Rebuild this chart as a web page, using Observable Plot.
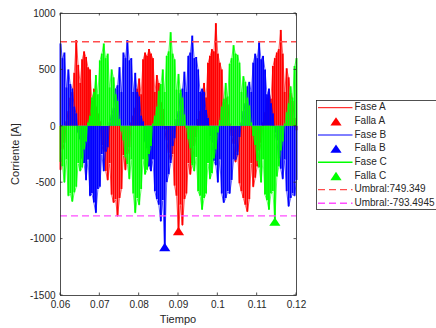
<!DOCTYPE html>
<html>
<head>
<meta charset="utf-8">
<script src="https://cdn.jsdelivr.net/npm/d3@7"></script>
<script src="https://cdn.jsdelivr.net/npm/@observablehq/plot@0.6"></script>
<style>
  html, body { margin: 0; padding: 0; background: #fff; }
  svg { display: block; }
</style>
</head>
<body>
<div id="chart"></div>
<script>
// Sampling of the three phase currents: one value every 0.5 ms from t = 0.06 s
const t0 = 0.06;
const dt = 0.0005;

const faseA = [
  -390, -210, -150, 40,
  130, 250, 300, 470, 760, 540, 380, 590, 660, 610, 520, 500, 220, 330, 170, 110,
  40, -170, -230, -400, -480, -330, -610, -680, -650, -800, -640, -560, -260, -390, -250, -190, 30,
  90, 160, 330, 420, 280, 590, 650, 620, 680, 640, 600, 300, 450, 380, 210, 150, -30,
  -130, -240, -300, -250, -530, -620, -928, -700, -880, -650, -600, -330, -430, -330, -180, -100,
  60, 130, 290, 380, 250, 560, 620, 680, 660, 910, 640, 560, 500, 210, 250, 190, 20,
  -90, -160, -320, -230, -510, -580, -640, -700, -760, -650, -330, -540, -460, -360, -220, -150,
  30, 120, 250, 300, 240, 530, 600, 650, 680, 850, 640, 300, 510, 430, 290, 220, 70,
  -40
];

const faseB = [
  730, 600, 650, 340, 500, 370, 330, 170, 110,
  -60, -120, -290, -330, -480, -300, -620, -600, -680, -770, -560, -540, -250, -400, -230, -190, 30,
  100, 160, 330, 360, 520, 300, 650, 600, 760, 580, 600, 300, 470, 300, 260, 90, 40,
  -140, -200, -360, -400, -300, -580, -650, -700, -845, -660, -1070, -500, -430, -330, -180, -110,
  60, 130, 290, 330, 480, 300, 620, 650, 800, 600, 610, 500, 300, 330, 300, 140, 70,
  -90, -150, -310, -350, -500, -300, -600, -680, -640, -580, -600, -480, -300, -300, -260, -100, 30,
  130, 200, 350, 390, 300, 560, 640, 600, 740, 590, 620, 500, 280, 330, 200, 110,
  -60, -130, -290, -380, -470, -300, -580, -713, -640, -600, -620, -480
];

const faseC = [
  -320, -360, -500, -300, -620, -600, -670, -590, -540, -330, -400, -370, -210, -140, 30,
  90, 250, 300, 450, 280, 580, 640, 730, 600, 640, 340, 500, 430, 280, 220, 60,
  -50, -130, -280, -340, -470, -300, -600, -770, -640, -700, -560, -300, -430, -390, -250, -180, 20,
  90, 170, 310, 370, 500, 300, 620, 660, 830, 640, 590, 320, 460, 320, 250, 100, -20,
  -120, -200, -350, -400, -280, -580, -620, -742, -640, -600, -330, -470, -420, -290, -210, -60,
  50, 170, 240, 380, 260, 550, 600, 715, 640, 630, 560, 300, 440, 390, 250, 180, 30,
  -90, -170, -310, -370, -500, -300, -610, -660, -742, -600, -580, -845, -450, -360, -220, -140, 20,
  120, 200, 350, 250, 530, 600
];

const umbralSup = 749.349;
const umbralInf = -793.4945;

const xTicks = [0.06, 0.07, 0.08, 0.09, 0.1, 0.11, 0.12];
const xTickLabels = ["0.06", "0.07", "0.08", "0.09", "0.1", "0.11", "0.12"];
const yTicks = [-1500, -1000, -500, 0, 500, 1000];
const yTickLabels = ["-1500", "-1000", "-500", "0", "500", "1000"];

const colorA = "#ff0000", colorB = "#0000ff", colorC = "#00ff00";
const colorSup = "#ff4d4d", colorInf = "#ff4dff";

const legendLabels = ["Fase A", "Falla A", "Fase B", "Falla B", "Fase C", "Falla C",
  "Umbral:749.349", "Umbral:-793.4945"];

// Build sample rows and the fault point (minimum) of each phase
const rows = vals => vals.map((v, i) => ({t: t0 + i * dt, v}));
const fault = vals => { const i = d3.minIndex(vals); return [{t: t0 + i * dt, v: vals[i]}]; };

// Upward triangle marker, wider than tall
const tri = {draw(ctx) { ctx.moveTo(0, -4.2); ctx.lineTo(5.6, 4.2); ctx.lineTo(-5.6, 4.2); ctx.closePath(); }};

function phaseMarks(vals, color) {
  const r = rows(vals);
  return [
    Plot.ruleX(r, {x: "t", y1: 0, y2: "v", stroke: color, strokeWidth: 1.9}),
    Plot.line(r, {x: "t", y: "v", stroke: color, strokeWidth: 0.6}),
    Plot.dot(fault(vals), {x: "t", y: "v", symbol: tri, fill: color, stroke: "none", r: 5})
  ];
}

const xLab = new Map(xTicks.map((d, i) => [d, xTickLabels[i]]));
const yLab = new Map(yTicks.map((d, i) => [d, yTickLabels[i]]));

const chart = Plot.plot({
  width: 436,
  height: 328,
  marginLeft: 60,
  marginRight: 140,
  marginTop: 13,
  marginBottom: 33,
  style: {fontFamily: "'Liberation Sans', Arial, sans-serif", fontSize: "10px", color: "#262626", background: "#fff", overflow: "hidden"},
  x: {domain: [0.06, 0.12]},
  y: {domain: [-1500, 1000]},
  marks: [
    ...phaseMarks(faseA, colorA),
    ...phaseMarks(faseB, colorB),
    ...phaseMarks(faseC, colorC),
    Plot.ruleY([umbralSup], {x1: 0.06, x2: 0.12, stroke: colorSup, strokeWidth: 1.3, strokeDasharray: "7,4"}),
    Plot.ruleY([umbralInf], {x1: 0.06, x2: 0.12, stroke: colorInf, strokeWidth: 1.3, strokeDasharray: "7,4"}),
    Plot.frame({stroke: "#262626", strokeWidth: 0.8}),
    Plot.axisX({ticks: xTicks, tickFormat: d => xLab.get(d), tickSize: 0, tickPadding: 5, label: null}),
    Plot.axisY({ticks: yTicks, tickFormat: d => yLab.get(d), tickSize: 0, tickPadding: 5, label: null})
  ]
});

document.getElementById("chart").appendChild(chart);

// Inward tick marks on all four sides, axis titles and legend
const sx = chart.scale("x"), sy = chart.scale("y");
const svg = d3.select(chart);
const x0 = sx.apply(0.06), x1 = sx.apply(0.12);
const yTop = sy.apply(1000), yBot = sy.apply(-1500);
const tl = 2.5;
const g = svg.append("g").attr("stroke", "#262626").attr("stroke-width", 0.8);
xTicks.forEach(d => {
  const x = sx.apply(d);
  g.append("line").attr("x1", x).attr("x2", x).attr("y1", yBot).attr("y2", yBot - tl);
  g.append("line").attr("x1", x).attr("x2", x).attr("y1", yTop).attr("y2", yTop + tl);
});
yTicks.forEach(d => {
  const y = sy.apply(d);
  g.append("line").attr("x1", x0).attr("x2", x0 + tl).attr("y1", y).attr("y2", y);
  g.append("line").attr("x1", x1).attr("x2", x1 - tl).attr("y1", y).attr("y2", y);
});

svg.append("text")
  .attr("transform", `translate(16,${(yTop + yBot) / 2}) rotate(-90)`)
  .attr("text-anchor", "middle").attr("dominant-baseline", "middle")
  .attr("fill", "#262626").attr("font-size", 11)
  .text("Corriente [A]");
svg.append("text")
  .attr("x", (x0 + x1) / 2).attr("y", 320)
  .attr("text-anchor", "middle").attr("dominant-baseline", "middle")
  .attr("fill", "#262626").attr("font-size", 11)
  .text("Tiempo");

const lg = svg.append("g");
lg.append("rect").attr("x", 316.5).attr("y", 100.5).attr("width", 130).attr("height", 109)
  .attr("fill", "#fff").attr("stroke", "#262626").attr("stroke-width", 0.8);
const rowY = i => 107.7 + 13.65 * i;
const legendItems = [
  {type: "line", color: colorA}, {type: "tri", color: colorA},
  {type: "line", color: colorB}, {type: "tri", color: colorB},
  {type: "line", color: colorC}, {type: "tri", color: colorC},
  {type: "dash", color: colorSup}, {type: "dash", color: colorInf}
];
legendItems.forEach((it, i) => {
  const y = rowY(i);
  if (it.type === "line") {
    lg.append("line").attr("x1", 318).attr("x2", 352.5).attr("y1", y).attr("y2", y)
      .attr("stroke", it.color).attr("stroke-width", it.color === colorC ? 1.6 : 1);
  } else if (it.type === "dash") {
    lg.append("line").attr("x1", 318).attr("x2", 352.5).attr("y1", y).attr("y2", y)
      .attr("stroke", it.color).attr("stroke-width", 1.3).attr("stroke-dasharray", "7,4");
  } else {
    lg.append("path").attr("d", `M336,${y - 4.2}L341.6,${y + 4.2}L330.4,${y + 4.2}Z`)
      .attr("fill", it.color);
  }
  lg.append("text").attr("x", 354.5).attr("y", y)
    .attr("text-anchor", "start").attr("dominant-baseline", "middle")
    .attr("fill", "#262626").attr("font-size", 10).text(legendLabels[i]);
});
</script>
</body>
</html>
